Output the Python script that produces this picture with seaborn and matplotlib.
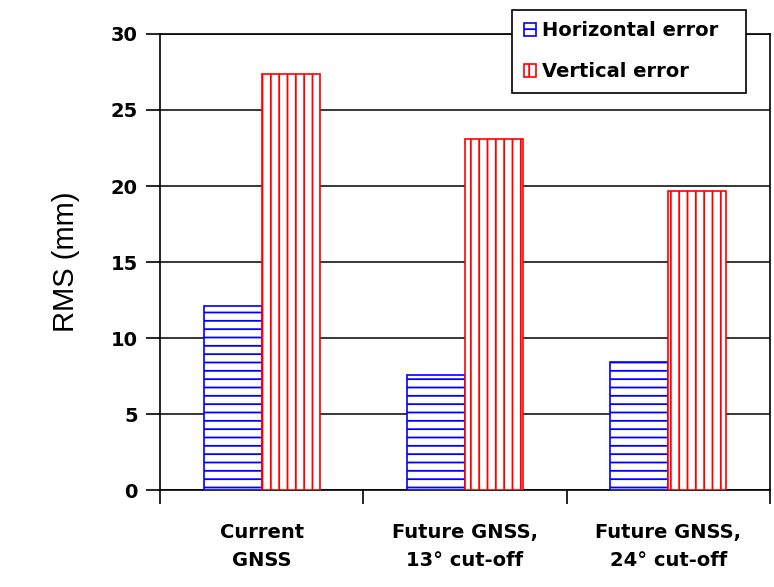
"""
RMS error bars: current vs future GNSS (horizontal / vertical).
"""

import numpy as np
import pandas as pd
import matplotlib
matplotlib.use("Agg")
import matplotlib.pyplot as plt
import seaborn as sns

# data
categories = ["Current\nGNSS", "Future GNSS,\n13\u00b0 cut-off", "Future GNSS,\n24\u00b0 cut-off"]
series = ["Horizontal error", "Vertical error"]
horizontal_rms = [12.1, 7.55, 8.45]
vertical_rms = [27.35, 23.1, 19.65]
y_ticks = [0, 5, 10, 15, 20, 25, 30]

df = pd.DataFrame({
    "category": categories * 2,
    "series": [series[0]] * 3 + [series[1]] * 3,
    "rms": horizontal_rms + vertical_rms,
})

sns.set_style("white")
plt.rcParams["font.family"] = ["DejaVu Sans"]
plt.rcParams["text.color"] = "black"
plt.rcParams["xtick.color"] = "black"
plt.rcParams["ytick.color"] = "black"
plt.rcParams["axes.labelcolor"] = "black"
plt.rcParams["hatch.linewidth"] = 1.3

fig = plt.figure(figsize=(7.74, 5.87), dpi=100)
ax = fig.add_axes([0.2067, 0.1652, 0.7883, 0.7769])

edge_colors = {"Horizontal error": "#0000ff", "Vertical error": "#ff0000"}
hatches = {"Horizontal error": "--", "Vertical error": "||"}

sns.barplot(data=df, x="category", y="rms", hue="series", hue_order=series,
            order=categories, palette=edge_colors, width=0.57, legend=False,
            errorbar=None, ax=ax)

# white bars with coloured outline and hatch
for name, cont in zip(series, ax.containers):
    for p in cont:
        p.set_facecolor("white")
        p.set_edgecolor(edge_colors[name])
        p.set_hatch(hatches[name])
        p.set_linewidth(1.2)
        p.set_zorder(3)

ax.set_ylim(0, 30)
ax.set_xlim(-0.5, 2.5)
ax.set_yticks(y_ticks)
ax.set_yticklabels([str(t) for t in y_ticks], fontsize=14, fontweight="bold")
ax.yaxis.grid(True, color="black", linewidth=1.1)
ax.set_axisbelow(True)

# category boundaries as major ticks, labels on minor ticks
ax.set_xticks([-0.5, 0.5, 1.5, 2.5])
ax.set_xticklabels([])
ax.set_xticks([0, 1, 2], minor=True)
ax.set_xticklabels(categories, minor=True, fontsize=14, fontweight="bold",
                   linespacing=1.55)
ax.tick_params(axis="x", which="minor", length=0, pad=24)
ax.tick_params(axis="x", which="major", direction="out", length=10, width=1.2,
               color="black", bottom=True)
ax.tick_params(axis="y", direction="out", length=10, width=1.2, color="black",
               left=True, pad=6)
ax.set_xlabel("")
ax.set_ylabel("RMS (mm)", fontsize=21, family="Liberation Sans", labelpad=22)

for side in ["left", "bottom", "right", "top"]:
    ax.spines[side].set_visible(True)
    ax.spines[side].set_color("black")
    ax.spines[side].set_linewidth(1.2)

leg = ax.legend(handles=list(ax.containers), labels=series,
                loc="upper left", bbox_to_anchor=(0.577, 0.873, 0.384, 0.18),
                mode="expand", fancybox=False, framealpha=1, edgecolor="black",
                prop={"weight": "bold", "size": 14}, handlelength=0.65,
                handleheight=0.65, handletextpad=0.3, borderpad=0.6,
                labelspacing=1.1, borderaxespad=0)
leg.get_frame().set_linewidth(1.2)
leg.set_zorder(5)

fig.savefig("out.png", dpi=100)
